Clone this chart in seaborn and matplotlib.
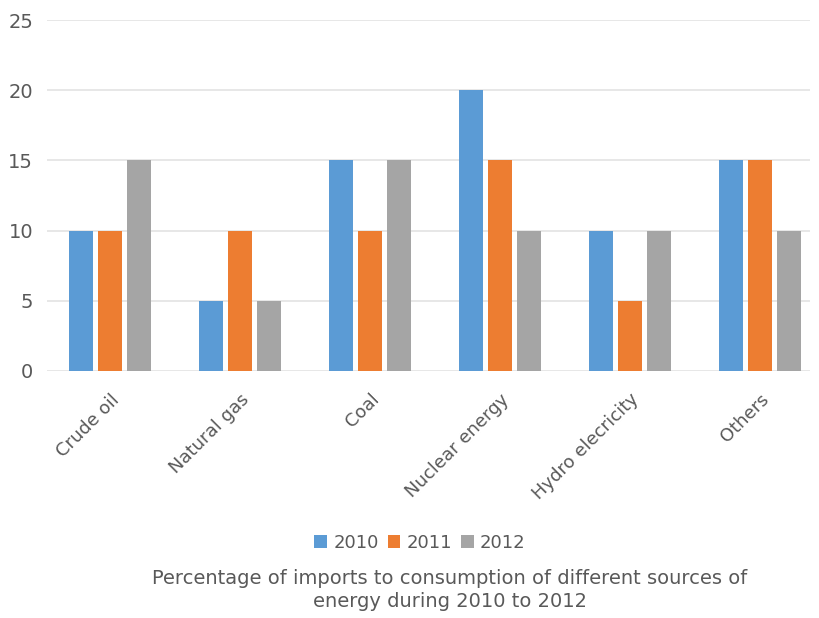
import matplotlib
matplotlib.use("Agg")
import matplotlib.pyplot as plt
import seaborn as sns
import pandas as pd

categories = ["Crude oil", "Natural gas", "Coal", "Nuclear energy", "Hydro elecricity", "Others"]
years = ["2010", "2011", "2012"]
v2010 = [10, 5, 15, 20, 10, 15]
v2011 = [10, 10, 10, 15, 5, 15]
v2012 = [15, 5, 15, 10, 10, 10]
yticks = [0, 5, 10, 15, 20, 25]
title = "Percentage of imports to consumption of different sources of\nenergy during 2010 to 2012"

rows = []
for yr, vals in zip(years, [v2010, v2011, v2012]):
    for c, v in zip(categories, vals):
        rows.append({"cat": c, "year": yr, "val": v})
df = pd.DataFrame(rows)

sns.set_style("white")
plt.rcParams['font.family'] = ['DejaVu Sans']
text_color = "#595959"

fig = plt.figure(figsize=(8.19, 6.18), dpi=100)
ax = fig.add_axes([47/819, 1-371/618, (810-47)/819, (371-20)/618])
palette = ["#5B9BD5", "#ED7D31", "#A5A5A5"]
sns.barplot(data=df, x="cat", y="val", hue="year", order=categories, hue_order=years,
            palette=palette, width=0.67, gap=0.2, ax=ax, legend=False, saturation=1,
            linewidth=0, edgecolor="none")

ax.set_ylim(0, 25)
ax.set_yticks(yticks)
ax.set_xlim(-0.485, 5.385)
ax.yaxis.grid(True, color="#E3E3E3", linewidth=1.2)
ax.set_axisbelow(True)
for s in ["top", "right", "left", "bottom"]:
    ax.spines[s].set_visible(False)
ax.tick_params(axis="both", length=0, colors=text_color)
ax.tick_params(axis="y", pad=10, labelsize=14)
ax.tick_params(axis="x", pad=14, labelsize=13)
ax.set_xlabel("")
ax.set_ylabel("")
for lbl in ax.get_xticklabels():
    lbl.set_rotation(45)
    lbl.set_ha("right")
    lbl.set_rotation_mode("anchor")
    lbl.set_color(text_color)

from matplotlib.patches import Patch
handles = [Patch(facecolor=c, edgecolor="none") for c in palette]
fig.legend(handles, years, loc="center", bbox_to_anchor=(420/819, 1-543/618), ncol=3,
           frameon=False, fontsize=13, labelcolor=text_color,
           handlelength=0.7, handleheight=0.7, handletextpad=0.35, columnspacing=0.5)
fig.text(450/819, 1-590/618, title, ha="center", va="center", fontsize=14,
         color=text_color, linespacing=1.3)

fig.savefig("out.png", dpi=100)
